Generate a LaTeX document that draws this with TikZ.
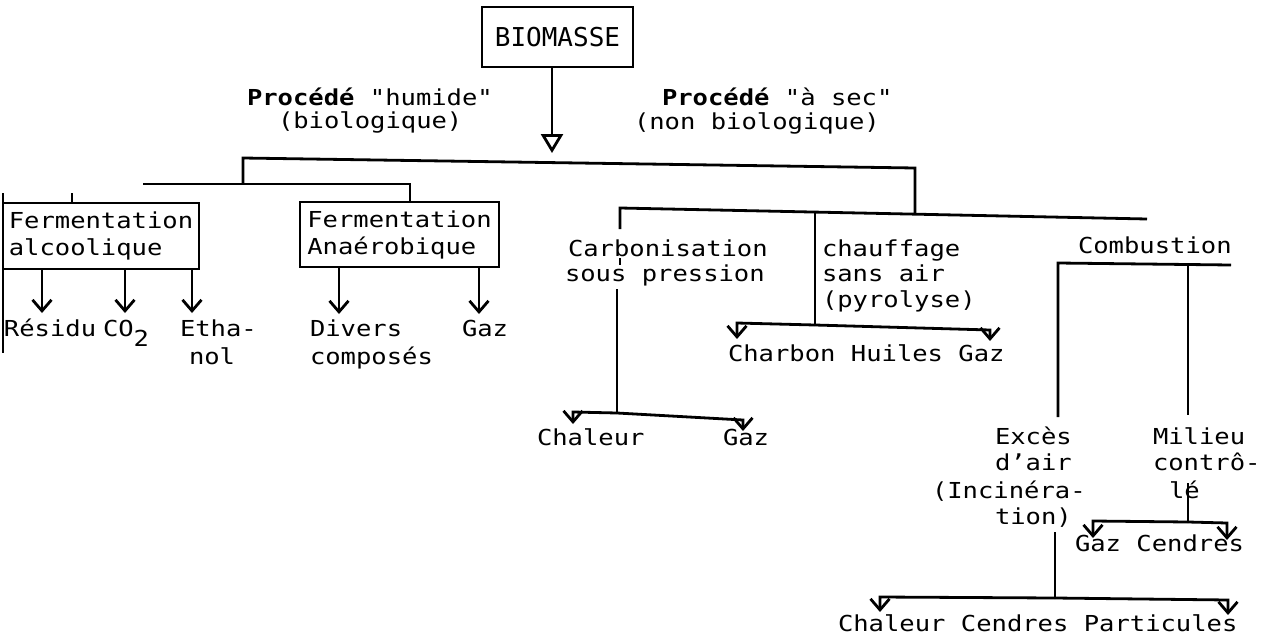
\documentclass[tikz,border=0pt]{standalone}
\usepackage{fontspec}
\newfontfamily\tw[FakeStretch=1.16]{DejaVu Sans Mono}
\newfontfamily\twbig{DejaVu Sans Mono}
\usetikzlibrary{arrows.meta}
\newcommand\twf{\tw\fontsize{22}{27}\selectfont}
\begin{document}
\begin{tikzpicture}[x=1pt,y=-1pt,
  every node/.style={font=\twf, inner sep=0pt, outer sep=0pt},
  lbl/.style={anchor=base west},
  ln/.style={line width=2.8pt},
  barb/.style={ln, -{Straight Barb[length=11pt,width=19pt]}},
  boxed/.style={draw, line width=2.8pt, align=left},
]
\useasboundingbox (0,0) rectangle (1264,643);

% root
\node[boxed, minimum width=151pt, minimum height=60pt, align=center, font=\twbig\fontsize{26}{27}\selectfont] (bio) at (557.5,37) {BIOMASSE};
\coordinate (bioTip) at (552,153);
\draw[ln, -{Triangle[open, length=19pt, width=22pt]}] (552,0 |- bio.south) -- (bioTip);

\node[lbl] (hum1) at (247,105) {\bfseries Procédé {\mdseries "humide"}};
\node[lbl] (hum2) at (278,128) {(biologique)};
\node[lbl] (sec1) at (662,105) {\bfseries Procédé {\mdseries "à sec"}};
\node[lbl] (sec2) at (634,129) {(non biologique)};

% top bar
\coordinate (tbL) at (243,158);
\coordinate (tbR) at (915,168);
\coordinate (wetJ) at (243,184);
\coordinate (dryJ) at (915,214);
\draw[ln] (wetJ) -- (tbL) -- (tbR) -- (dryJ);

% wet branch
\node[boxed, minimum width=196pt, minimum height=66pt] (fa) at (101,236) {Fermentation\\alcoolique};
\node[boxed, minimum width=199pt, minimum height=65pt] (fan) at (399.5,234.5) {Fermentation\\Anaérobique};
\coordinate (wL) at (143,184);
\coordinate (wR) at (410,184);
\draw[ln] (wL) -- (wR) -- (410,0 |- fan.north);
\coordinate (tk) at (72,193);
\draw[ln] (tk) -- (72,0 |- fa.north);
\coordinate (lA) at (3,193);
\coordinate (lB) at (3,353);
\draw[ln] (lA) -- (lB);

\node[lbl] (res) at (4,336) {Résidu};
\node[lbl] (co2) at (103,336) {CO\raisebox{-10pt}{2}};
\node[lbl] (eth1) at (180,336) {Etha-};
\node[lbl] (eth2) at (189,364) {nol};
\node[lbl] (div1) at (310,336) {Divers};
\node[lbl] (div2) at (310,364) {composés};
\node[lbl] (gz1) at (462,336) {Gaz};

\coordinate (a1) at (42,313);
\coordinate (a2) at (125,313);
\coordinate (a3) at (192,313);
\coordinate (a4) at (339,314);
\coordinate (a5) at (479,314);
\draw[barb] (a1 |- fa.south) -- (a1);
\draw[barb] (a2 |- fa.south) -- (a2);
\draw[barb] (a3 |- fa.south) -- (a3);
\draw[barb] (a4 |- fan.south) -- (a4);
\draw[barb] (a5 |- fan.south) -- (a5);

% dry branch
\coordinate (dL) at (620,208);
\coordinate (dLb) at (620,229);
\coordinate (dR) at (1147,219);
\draw[ln] (dLb) -- (dL) -- (dR);

\node[lbl] (carb1) at (568,256) {Carbonisation};
\node[lbl] (carb2) at (565,281) {sous pression};
\coordinate (ckA) at (620,258);
\coordinate (ckB) at (620,265);
\draw[ln] (ckA) -- (ckB);
\coordinate (cv1) at (617,289);
\coordinate (cv2) at (617,413);
\draw[ln] (cv1) -- (cv2);
\node[lbl] (chal1) at (537,445) {Chaleur};
\node[lbl] (gz2) at (723,445) {Gaz};
\coordinate (chA) at (573,424);
\coordinate (gzA) at (743,431);
\draw[barb] (cv2) -- (573,412) -- (chA);
\draw[barb] (cv2) -- (743,420) -- (gzA);

\node[lbl] (ch1) at (822,256) {chauffage};
\node[lbl] (ch2) at (822,281) {sans air};
\node[lbl] (ch3) at (822,307) {(pyrolyse)};
\coordinate (cfT) at (815,213);
\coordinate (cfB) at (815,325);
\draw[ln] (cfT) -- (cfB);
\node[lbl] (chb) at (728,361) {Charbon Huiles Gaz};
\coordinate (cbA) at (737,339);
\coordinate (cbB) at (990,341);
\draw[barb] (cfB) -- (737,323) -- (cbA);
\draw[barb] (cfB) -- (990,330) -- (cbB);

% combustion
\node[lbl] (comb) at (1078,253) {Combustion};
\coordinate (cbL) at (1058,263);
\coordinate (cbR) at (1231,265);
\coordinate (exT) at (1058,417);
\coordinate (miJ) at (1188,264);
\coordinate (miT) at (1188,415);
\draw[ln] (exT) -- (cbL) -- (cbR);
\draw[ln] (miJ) -- (miT);

\node[lbl] (ex1) at (995,444) {Excès};
\node[lbl] (ex2) at (995,470) {d’air};
\node[lbl] (ex3) at (932,498) {(Incinéra-};
\node[lbl] (ex4) at (995,524) {tion)};

\node[lbl] (mi1) at (1153,444) {Milieu};
\node[lbl] (mi2) at (1153,470) {contrô-};
\node[lbl] (mi3) at (1169,498) {lé};

\coordinate (mlT) at (1188,483);
\coordinate (mlB) at (1188,522);
\draw[ln] (mlT) -- (mlB);
\node[lbl] (gc) at (1075,551) {Gaz Cendres};
\coordinate (gcA) at (1093,538);
\coordinate (gcB) at (1227,540);
\draw[barb] (mlB) -- (1093,521) -- (gcA);
\draw[barb] (mlB) -- (1227,523) -- (gcB);

\coordinate (elT) at (1055,532);
\coordinate (elB) at (1055,598);
\draw[ln] (elT) -- (elB);
\node[lbl] (ccp) at (838,631) {Chaleur Cendres Particules};
\coordinate (ccA) at (880,612);
\coordinate (ccB) at (1228,615);
\draw[barb] (elB) -- (880,597) -- (ccA);
\draw[barb] (elB) -- (1228,600) -- (ccB);
\end{tikzpicture}
\end{document}
